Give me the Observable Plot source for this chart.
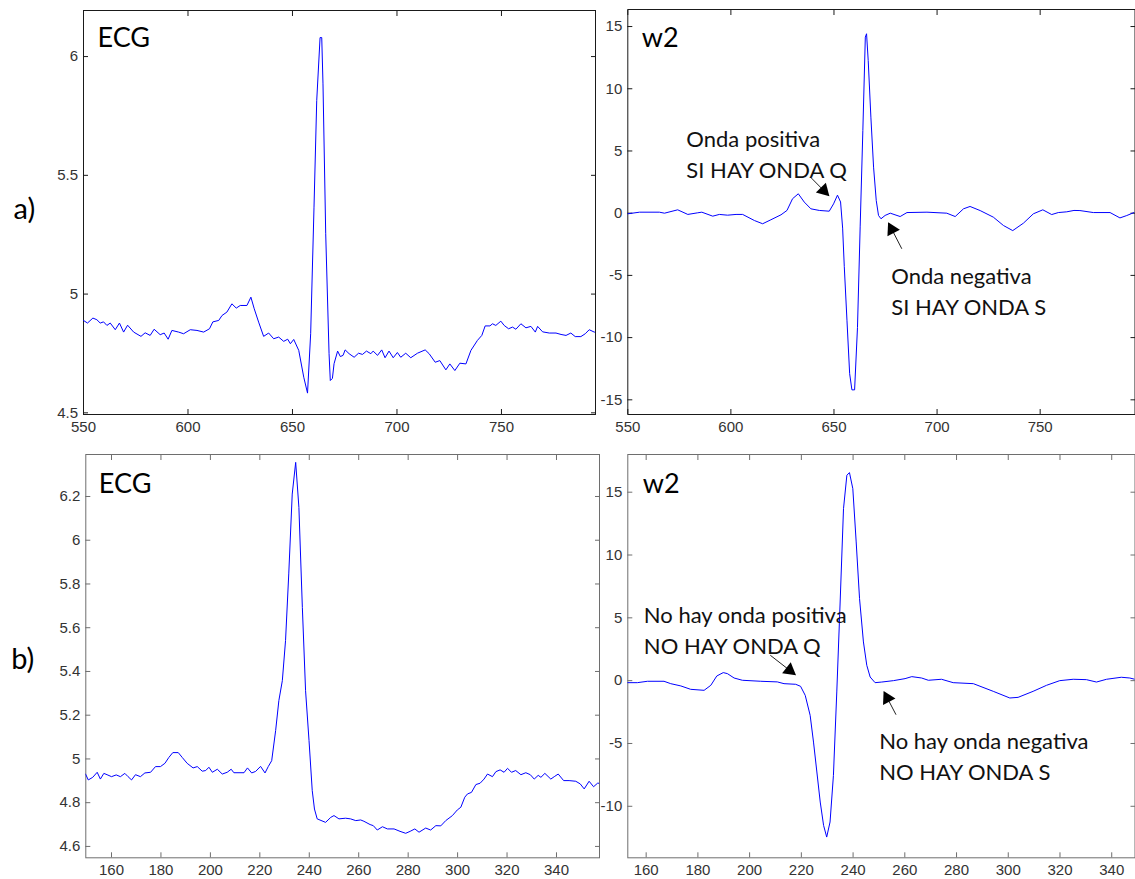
<!DOCTYPE html>
<html><head><meta charset="utf-8">
<script src="https://cdn.jsdelivr.net/npm/d3@7"></script>
<script src="https://cdn.jsdelivr.net/npm/@observablehq/plot@0.6"></script>
<style>
html,body{margin:0;padding:0;background:#fff;}
#root{position:relative;width:1135px;height:879px;overflow:hidden;background:#fff;}
.panel{position:absolute;}
</style></head><body><div id="root"></div>
<script>
// ---------- data ----------
const ecgA_x = [550,551.9,554.5,556.4,558,559.6,561.2,562.8,565.2,567.2,569.2,571.1,574,577.5,579.5,581.9,583.8,586.7,588.6,590.5,592.3,595.5,597.9,601.1,604.3,607.5,610.3,611.9,614.7,616.3,618.6,621,623.1,625,628.2,630.1,631.7,633.8,636.2,638.6,641,643.4,645.8,647.7,649,650.6,653,655.4,657.2,658.7,660.3,661.6,663.2,664,664.6,665.9,667.5,668.1,669.1,669.9,671.6,672.9,674.2,675.2,677.1,679.5,681.6,683.5,685.4,687.5,688.6,690.7,692.7,694.3,696.2,698.2,700.2,701.8,704.2,706.6,709.8,713.5,715.4,718.3,720.5,723.4,725.3,727.7,730.1,733,735.4,738.5,740.6,742.2,744.5,745.7,747.3,749.7,751.3,753.4,755.3,756.9,759.3,761.7,764.1,766.2,767.3,769.7,772.9,776.1,778.5,780.9,783.2,785.3,788,790.1,792,794.4,795.5];
const ecgA_y = [4.889,4.878,4.899,4.892,4.878,4.883,4.868,4.878,4.850,4.878,4.840,4.869,4.840,4.822,4.837,4.826,4.852,4.829,4.836,4.810,4.847,4.840,4.833,4.850,4.847,4.840,4.854,4.883,4.889,4.910,4.924,4.959,4.941,4.952,4.952,4.987,4.938,4.882,4.822,4.836,4.812,4.819,4.801,4.810,4.791,4.809,4.763,4.650,4.583,4.833,5.366,5.815,6.080,6.080,5.885,5.254,4.749,4.636,4.645,4.707,4.760,4.737,4.742,4.765,4.749,4.734,4.751,4.746,4.760,4.749,4.760,4.742,4.765,4.732,4.760,4.732,4.754,4.734,4.751,4.732,4.751,4.765,4.749,4.713,4.720,4.681,4.706,4.678,4.709,4.706,4.763,4.805,4.826,4.866,4.866,4.875,4.868,4.886,4.868,4.854,4.861,4.852,4.875,4.858,4.864,4.840,4.864,4.841,4.836,4.836,4.830,4.826,4.836,4.821,4.821,4.833,4.850,4.840,4.840];

const w2A_x = [550,555.7,565.3,567.8,574.2,579.1,583.9,585.9,591.2,594.4,598.4,602.5,605.7,611.4,615.4,619.4,624.3,627.2,629.9,632.7,635.6,638.8,642.9,647.7,649.8,651.7,653.2,654.2,655,656.3,657.6,658.7,660,661.4,662.7,664,665.2,665.8,666.6,667.9,669.2,670.5,671.6,672.8,674.8,677.3,682.1,685.4,695.1,704.7,708.8,712.8,716,720.9,727.3,732.2,736.7,741.9,746.7,751.3,755.6,758.8,762.9,766.4,769.3,775.8,783.9,788.7,792,795.5];
const w2A_y = [-0.05,0.08,0.08,0.0,0.27,-0.1,0.03,0.08,-0.24,-0.1,-0.16,-0.1,-0.1,-0.59,-0.85,-0.53,-0.13,0.22,1.16,1.56,0.89,0.35,0.22,0.16,0.75,1.45,0.9,-1.2,-4.3,-8.6,-12.9,-14.2,-14.2,-9.2,-1.1,6.65,14.15,14.42,12.27,7.72,3.70,1.02,-0.18,-0.45,-0.18,0.0,-0.27,0.05,0.08,0.0,-0.27,0.35,0.54,0.21,-0.32,-0.99,-1.40,-0.80,-0.05,0.27,-0.11,0.05,0.11,0.22,0.21,0.05,0.05,-0.38,-0.19,0.05];

const ecgB_x = [149.5,150.6,152.4,154.2,155.5,156.9,158.2,160,161.9,163.6,165.4,166.7,168.1,169.7,171.7,173.5,175.8,177.8,179.8,181.6,183.2,184.8,187,188.6,190.6,193,194.7,196.7,198.1,199.4,200.8,202.8,204.8,206.8,208.4,209.5,213.6,215,216.7,218.3,220.3,222.1,223.4,224.8,226.4,227.7,229.1,230.4,231.7,233.1,234.5,235.8,237.2,238.5,239.9,241.2,242.1,243.2,246.6,248.7,250,252,254.7,256.7,258.8,260.8,262.1,264.6,265.9,267.5,269.6,271.6,274.3,276.7,279,280.8,282.7,284.4,287.1,289.1,291.2,293.2,295.2,297.9,299.9,301.3,302.9,304,305.6,307.4,309.1,310.7,312.1,314.1,315.5,317.2,318.8,320.2,321.8,323.5,325.6,327.6,329.4,331,332.6,333.7,335.3,337.7,339.1,340.7,342.9,345.1,347.8,349.6,351.2,353.2,355,356.6,357.7];
const ecgB_y = [4.931,4.904,4.916,4.939,4.908,4.934,4.928,4.919,4.927,4.919,4.934,4.919,4.904,4.928,4.919,4.936,4.939,4.965,4.965,4.980,5.007,5.029,5.029,5.007,4.980,4.959,4.965,4.944,4.947,4.962,4.939,4.953,4.931,4.939,4.953,4.937,4.937,4.959,4.936,4.943,4.966,4.936,4.965,4.992,5.13,5.267,5.358,5.541,5.846,6.211,6.356,6.150,5.693,5.312,5.084,4.855,4.771,4.726,4.710,4.733,4.741,4.726,4.729,4.726,4.718,4.721,4.715,4.700,4.695,4.675,4.690,4.680,4.680,4.669,4.660,4.669,4.680,4.665,4.684,4.675,4.695,4.694,4.718,4.741,4.767,4.779,4.825,4.840,4.847,4.883,4.889,4.908,4.931,4.919,4.942,4.950,4.939,4.957,4.939,4.947,4.928,4.937,4.928,4.908,4.925,4.916,4.934,4.908,4.919,4.931,4.901,4.901,4.898,4.886,4.863,4.898,4.873,4.889,4.889];

const w2B_x = [152.8,156.6,160.5,166.9,169.5,173.4,177.2,182.4,185,187.3,189.8,191.4,194,197.2,204.3,210.7,213.3,217.8,219.7,221.5,223.4,224.7,226,227.3,228.6,229.8,231.1,232.4,233.7,235,236.3,237.6,238.6,239.9,241.2,242.5,244,245.3,246.6,248.5,251.1,255.6,260.1,262.7,266.5,269.1,274.2,278.7,286.5,294.2,300.6,303.8,309.6,314.8,319.9,325.1,330.2,334.1,338,343.7,347,348.9];
const w2B_y = [-0.16,-0.16,-0.05,-0.05,-0.24,-0.42,-0.69,-0.77,-0.37,0.37,0.64,0.56,0.21,0.03,-0.05,-0.1,-0.24,-0.29,-0.45,-1.17,-2.76,-4.89,-7.27,-9.66,-11.52,-12.45,-11.25,-7.54,-0.9,6.26,13.69,16.35,16.56,15.28,11.04,6.53,3.08,1.22,0.29,-0.16,-0.11,0.0,0.16,0.32,0.21,0.03,0.11,-0.16,-0.24,-0.85,-1.38,-1.33,-0.85,-0.37,0.0,0.11,0.08,-0.11,0.11,0.27,0.21,0.11];

const ticksX_A = [550,600,650,700,750];
const ticksX_B = [160,180,200,220,240,260,280,300,320,340];
const ticksY_ecgA = [4.5,5,5.5,6];
const ticksY_w2A = [-15,-10,-5,0,5,10,15];
const ticksY_ecgB = [4.6,4.8,5,5.2,5.4,5.6,5.8,6,6.2];
const ticksY_w2B = [-10,-5,0,5,10,15];

const noteA_text = ["Onda positiva\nSI HAY ONDA Q","Onda negativa\nSI HAY ONDA S"];
const noteA_x = [578.4, 677.8];
const noteA_y = [7.05, -3.94];
const arrowA_x1 = [638.9, 682.9], arrowA_y1 = [2.85, -2.86];
const arrowA_x2 = [647.4, 676.5], arrowA_y2 = [1.42, -0.80];

const noteB_text = ["No hay onda positiva\nNO HAY ONDA Q","No hay onda negativa\nNO HAY ONDA S"];
const noteB_x = [159.1, 250.1];
const noteB_y = [6.32, -3.69];
const arrowB_x1 = [208, 256.6], arrowB_y1 = [2.02, -2.71];
const arrowB_x2 = [217.6, 252], arrowB_y2 = [0.48, -0.90];

// ---------- drawing ----------
const root = document.getElementById("root");
const TXT = "Lato, 'Open Sans', sans-serif";

function panel(cfg) {
  const {left, top, width, height, mL, mR, mT, mB, xDomain, yDomain, xTicks, yTicks,
         xs, ys, title, titleDx, titleDy, side, sideDx, sideDy, frameColor, notes, arrows} = cfg;
  const rows = xs.map((x, i) => ({x, y: ys[i]}));
  const fw = width - mL - mR, fh = height - mT - mB;
  const kx = fw / (xDomain[1] - xDomain[0]);
  const ky = fh / (yDomain[1] - yDomain[0]);
  let arrowRows = [], headRows = [], noteRows = [];
  if (arrows) {
    arrowRows = arrows.x1.map((x1, i) => ({x1, y1: arrows.y1[i], x2: arrows.x2[i], y2: arrows.y2[i]}));
    headRows = arrowRows.map(a => {
      const dxp = (a.x2 - a.x1) * kx, dyp = -(a.y2 - a.y1) * ky;
      const L = Math.hypot(dxp, dyp);
      const ux = dxp / L, uy = dyp / L;
      const back = 7;
      return {x: a.x2 - back * ux / kx, y: a.y2 + back * uy / ky,
              rot: Math.atan2(dxp, -dyp) * 180 / Math.PI};
    });
    noteRows = notes.text.map((t, i) => ({t, x: notes.x[i], y: notes.y[i]}));
  }
  const marks = [
    Plot.frame({stroke: frameColor, strokeWidth: 1}),
    Plot.axisX(xTicks, {anchor: "bottom", tickSize: -5, tickPadding: 11.5, tickFormat: d => String(d),
      label: null, color: frameColor, fill: "#333", fontSize: 15}),
    Plot.axisX(xTicks, {anchor: "top", tickSize: -5, tickFormat: () => "", label: null, color: frameColor}),
    Plot.axisY(yTicks, {anchor: "left", tickSize: -5, tickPadding: 10.5, tickFormat: d => String(d),
      label: null, color: frameColor, fill: "#333", fontSize: 15}),
    Plot.axisY(yTicks, {anchor: "right", tickSize: -5, tickFormat: () => "", label: null, color: frameColor}),
    Plot.line(rows, {x: "x", y: "y", stroke: "#0000ff", strokeWidth: 1, clip: true}),
    Plot.text([title], {frameAnchor: "top-left", textAnchor: "start", lineAnchor: "top",
      dx: titleDx, dy: titleDy, fontSize: 27, fontFamily: TXT, fill: "#000"})
  ];
  if (side) marks.push(Plot.text([side], {frameAnchor: "left", textAnchor: "start", lineAnchor: "middle",
      dx: sideDx, dy: sideDy, fontSize: 29, fontFamily: TXT, fill: "#000"}));
  if (arrows) {
    marks.push(Plot.link(arrowRows, {x1: "x1", y1: "y1", x2: "x2", y2: "y2", stroke: "#222", strokeWidth: 1}));
    marks.push(Plot.dot(headRows, {x: "x", y: "y", symbol: "triangle", r: 5.2, rotate: "rot", fill: "#000", stroke: "none"}));
    marks.push(Plot.text(noteRows, {x: "x", y: "y", text: "t", textAnchor: "start", lineAnchor: "top",
      lineHeight: 1.4, fontSize: 22, fontFamily: TXT, fill: "#111"}));
  }
  const svg = Plot.plot({
    width, height, marginLeft: mL, marginRight: mR, marginTop: mT, marginBottom: mB,
    x: {domain: xDomain}, y: {domain: yDomain},
    style: {background: "transparent", fontFamily: "'Liberation Sans', Arial, sans-serif", overflow: "visible"},
    marks
  });
  const wrap = document.createElement("div");
  wrap.className = "panel";
  wrap.style.left = left + "px";
  wrap.style.top = top + "px";
  wrap.appendChild(svg);
  root.appendChild(wrap);
}

panel({left: 0, top: 0, width: 605, height: 440, mL: 83, mR: 10, mT: 10, mB: 26,
  xDomain: [550, 795], yDomain: [4.493, 6.194], xTicks: ticksX_A, yTicks: ticksY_ecgA,
  xs: ecgA_x, ys: ecgA_y, title: "ECG", titleDx: 14, titleDy: 17.5, side: "a)", sideDx: -70, sideDy: -3,
  frameColor: "#1a1a1a"});
panel({left: 590, top: 0, width: 545, height: 440, mL: 37.3, mR: 0.5, mT: 9, mB: 26,
  xDomain: [550, 796], yDomain: [-16.18, 16.37], xTicks: ticksX_A, yTicks: ticksY_w2A,
  xs: w2A_x, ys: w2A_y, title: "w2", titleDx: 14, titleDy: 18.5, frameColor: "#1a1a1a",
  notes: {text: noteA_text, x: noteA_x, y: noteA_y},
  arrows: {x1: arrowA_x1, y1: arrowA_y1, x2: arrowA_x2, y2: arrowA_y2}});
panel({left: 0, top: 440, width: 605, height: 439, mL: 85.3, mR: 6, mT: 14, mB: 21.7,
  xDomain: [149.6, 357.4], yDomain: [4.548, 6.392], xTicks: ticksX_B, yTicks: ticksY_ecgB,
  xs: ecgB_x, ys: ecgB_y, title: "ECG", titleDx: 13, titleDy: 19.5, side: "b)", sideDx: -74.6, sideDy: 4,
  frameColor: "#6e6e6e"});
panel({left: 590, top: 440, width: 545, height: 439, mL: 37.3, mR: 0.5, mT: 14, mB: 21.7,
  xDomain: [152.9, 349], yDomain: [-14.1, 18], xTicks: ticksX_B, yTicks: ticksY_w2B,
  xs: w2B_x, ys: w2B_y, title: "w2", titleDx: 15, titleDy: 19.5, frameColor: "#6e6e6e",
  notes: {text: noteB_text, x: noteB_x, y: noteB_y},
  arrows: {x1: arrowB_x1, y1: arrowB_y1, x2: arrowB_x2, y2: arrowB_y2}});
</script>
</body></html>
